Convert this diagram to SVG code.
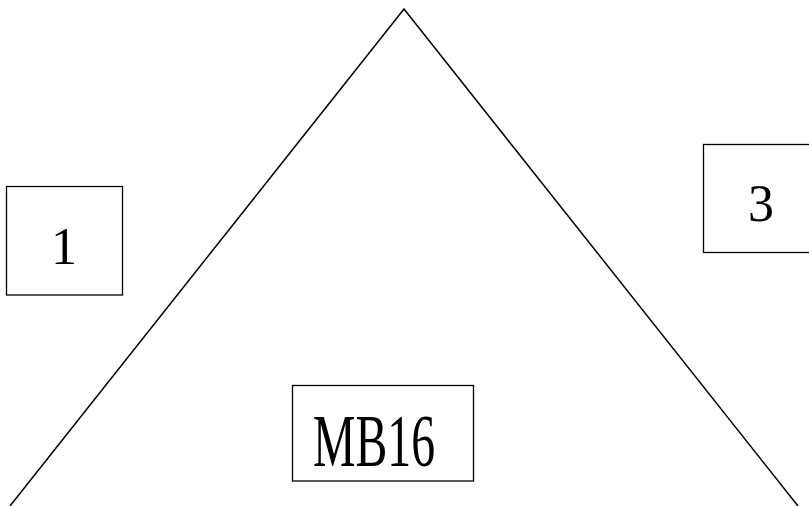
<svg xmlns="http://www.w3.org/2000/svg" width="809" height="506" viewBox="0 0 809 506">
<style>
.box{fill:none;stroke:#000;stroke-width:1.3}
.t{font-family:"Liberation Serif","Times New Roman",serif;fill:#000}
.ln{fill:none;stroke:#000;stroke-width:1.5}
</style>
<rect width="809" height="506" fill="#fff"/>
<g id="connectors">
<polyline class="ln" points="10,506 404,9 798,506"/>
</g>
<g id="node1">
<rect class="box" x="6.5" y="186.5" width="116" height="108.5"/>
<text class="t" x="64" y="264" font-size="52" text-anchor="middle">1</text>
</g>
<g id="node3">
<rect class="box" x="703.5" y="144.5" width="110" height="108"/>
<text class="t" x="761" y="221" font-size="52" text-anchor="middle">3</text>
</g>
<g id="nodeMB16">
<rect class="box" x="292.5" y="385.5" width="181" height="95.5"/>
<text class="t" x="313" y="466" font-size="74" textLength="122" lengthAdjust="spacingAndGlyphs">MB16</text>
</g>
</svg>
